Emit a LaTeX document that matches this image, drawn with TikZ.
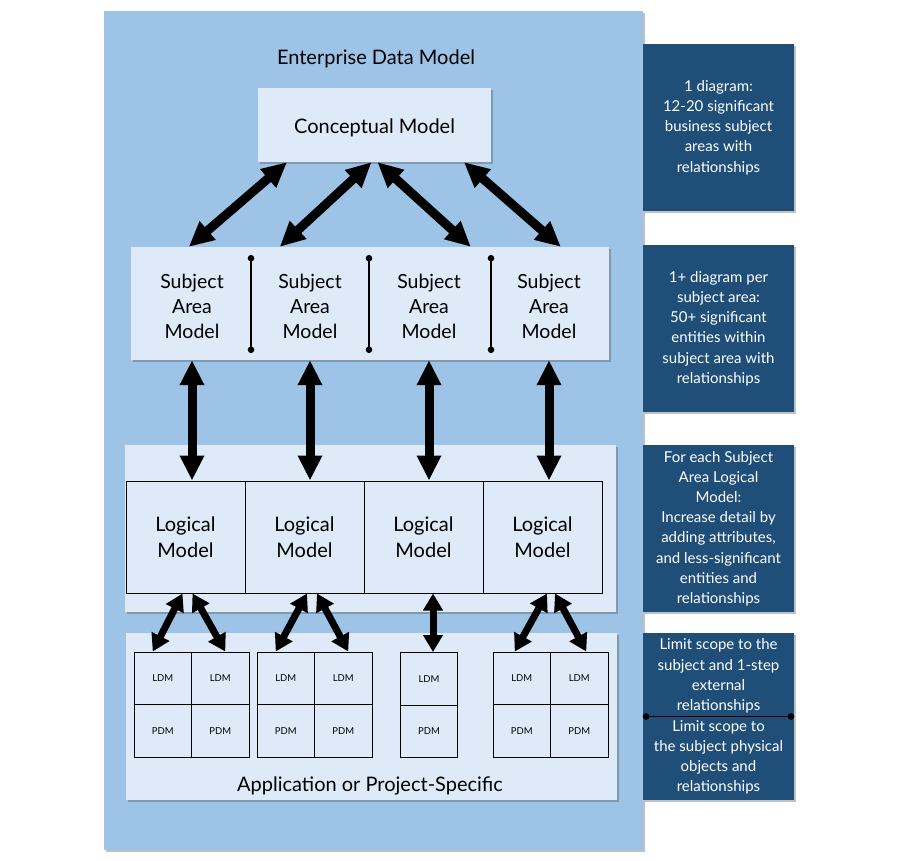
\documentclass[tikz,border=0pt]{standalone}
\usepackage{fontspec}
\setmainfont{Lato}
\usetikzlibrary{arrows.meta,calc,shadows}

\definecolor{panelblue}{HTML}{9DC3E6}
\definecolor{paleblue}{HTML}{DEEAF7}
\definecolor{noteblue}{HTML}{1F4E79}

\begin{document}
\begin{tikzpicture}[x=1pt,y=-1pt,
    softshadow/.style={drop shadow={shadow xshift=2pt,shadow yshift=-2pt,opacity=0.35,fill=black!70}},
    pale/.style={fill=paleblue,inner sep=0pt,softshadow},
    modeltext/.style={align=center,font=\fontsize{19.5}{25}\selectfont},
    logbox/.style={draw,line width=1pt,fill=paleblue,minimum width=119pt,minimum height=112pt,align=center,font=\fontsize{20}{26}\selectfont},
    cell/.style={draw,line width=1pt,fill=paleblue,minimum width=57.5pt,minimum height=52.5pt,inner sep=0pt,font=\fontsize{9.5}{11}\selectfont},
    note/.style={fill=noteblue,text=white,minimum width=151pt,minimum height=167pt,align=center,inner sep=0pt,softshadow,font=\fontsize{15}{20.2}\selectfont},
    bigarrow/.style={line width=9pt,{Triangle[length=25pt,width=23pt]}-{Triangle[length=25pt,width=23pt]}},
    smallarrow/.style={line width=7pt,{Triangle[length=17pt,width=19pt]}-{Triangle[length=17pt,width=19pt]}},
    divider/.style={line width=1.4pt,{Circle[length=6.5pt,width=6.5pt]}-{Circle[length=6.5pt,width=6.5pt]}}]
        \useasboundingbox (0,0) rectangle (900,860);
        \node [fill=panelblue,minimum width=539pt,minimum height=839pt,softshadow] (edm) at (373.5,430.5) {};
        \node [font=\fontsize{20}{24}\selectfont] (edmtitle) at (376,59) {Enterprise Data Model};
        \node [pale,minimum width=233pt,minimum height=74pt,font=\fontsize{20}{24}\selectfont] (cm) at (374.5,125) {};
        \node [font=\fontsize{20}{24}\selectfont] (cmtext) at (374.5,127.5) {Conceptual Model};
        \node [pale,minimum width=478pt,minimum height=113pt] (sastrip) at (370,303.5) {};
        \foreach \x [count=\i] in {192,310,429,549}{\node [modeltext] (sa\i) at (\x,306) {Subject\\Area\\Model};}
        \foreach \x in {251,369,491}{\draw [divider] (\x,255) -- (\x,353);}
        \draw [bigarrow] ($(cm.south)+(-87.5,0)$) -- ($(sastrip.north west)+(58,0)$);
        \draw [bigarrow] ($(cm.south)+(-3,0)$) -- ($(sastrip.north west)+(149,0)$);
        \draw [bigarrow] ($(cm.south)+(3,0)$) -- ($(sastrip.north west)+(340,0)$);
        \draw [bigarrow] ($(cm.south)+(89.5,0)$) -- ($(sastrip.north west)+(430,0)$);
        \node [pale,minimum width=491pt,minimum height=167pt] (lpanel) at (370.5,528.5) {};
        \foreach \i in {1,...,4}{\node [logbox] (lm\i) at (66.5+119*\i,537) {Logical\\Model};}
        \foreach \i in {1,...,4}{\draw [bigarrow] (sa\i |- sastrip.south) -- (sa\i |- lm\i.north);}
        \node [pale,minimum width=491pt,minimum height=167pt] (apanel) at (371.5,716.5) {};
        \node [font=\fontsize{20}{24}\selectfont] (aptitle) at (370,786) {Application or Project-Specific};
        \foreach \k/\x in {1/134,2/257,4/493}{
            \node [cell] (g\k l1) at (\x+28.75,678.25) {LDM};
            \node [cell] (g\k l2) at (\x+86.25,678.25) {LDM};
            \node [cell] (g\k p1) at (\x+28.75,730.75) {PDM};
            \node [cell] (g\k p2) at (\x+86.25,730.75) {PDM};
        }
        \node [cell] (g3l1) at (429,678.75) {LDM};
        \node [cell] (g3p1) at (429,731.25) {PDM};
        \draw [smallarrow] ($(lm1.south)+(-3,0)$) -- ($(g1l1.north)+(-10,0)$);
        \draw [smallarrow] ($(lm1.south)+(7,0)$) -- ($(g1l2.north)+(5,0)$);
        \draw [smallarrow] ($(lm2.south)+(2.5,0)$) -- ($(g2l1.north)+(-10,0)$);
        \draw [smallarrow] ($(lm2.south)+(12.5,0)$) -- ($(g2l2.north)+(5,0)$);
        \draw [smallarrow] ($(lm3.south)+(9.5,0)$) -- ($(g3l1.north)+(4,0)$);
        \draw [smallarrow] ($(lm4.south)+(4.5,0)$) -- ($(g4l1.north)+(-7,0)$);
        \draw [smallarrow] ($(lm4.south)+(12.5,0)$) -- ($(g4l2.north)+(7,0)$);
        \node [note] (n1) at (718.5,127.5) {1 diagram:\\12-20 significant\\business subject\\areas with\\relationships};
        \node [note] (n2) at (718.5,328.5) {1+ diagram per\\subject area:\\50+ significant\\entities within\\subject area with\\relationships};
        \node [note] (n3) at (718.5,528.5) {For each Subject\\Area Logical\\Model:\\Increase detail by\\adding attributes,\\and less-significant\\entities and\\relationships};
        \node [note] (n4) at (718.5,716.5) {};
        \node [text=white,align=center,font=\fontsize{15}{20.2}\selectfont] (n4top) at (718.5,676) {Limit scope to the\\subject and 1-step\\external\\relationships};
        \node [text=white,align=center,font=\fontsize{15}{20.2}\selectfont] (n4bot) at (718.5,757.5) {Limit scope to\\the subject physical\\objects and\\relationships};
        \draw [divider] (n4.west) -- (n4.east);
    \end{tikzpicture}
\end{document}
